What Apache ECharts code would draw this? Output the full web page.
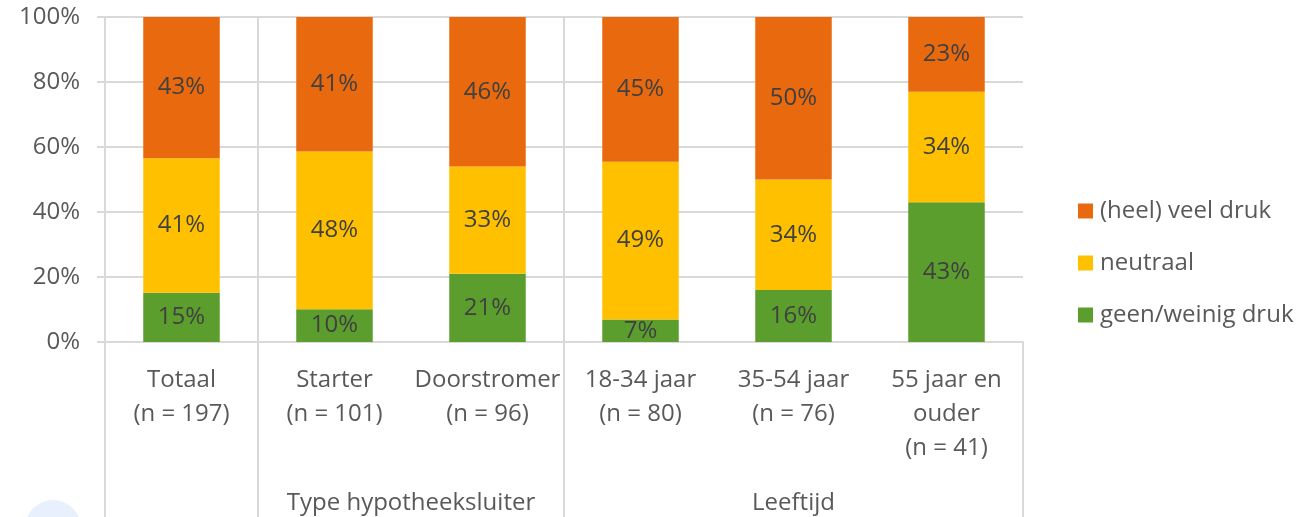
<!DOCTYPE html>
<html>
<head>
<meta charset="utf-8">
<script src="https://cdn.jsdelivr.net/npm/echarts@6/dist/echarts.min.js"></script>
<style>
  html, body { margin: 0; padding: 0; background: #ffffff; }
  #chart { width: 1298px; height: 517px; }
</style>
</head>
<body>
<div id="chart"></div>
<script>
// Respondent groups (bottom axis, first level)
const categories = [
  'Totaal\n(n = 197)',
  'Starter\n(n = 101)',
  'Doorstromer\n(n = 96)',
  '18-34 jaar\n(n = 80)',
  '35-54 jaar\n(n = 76)',
  '55 jaar en\nouder\n(n = 41)'
];

// Second-level grouping: name, first category index, index after the last one
const groupNames = ['Type hypotheeksluiter', 'Leeftijd'];
const groupStart = [1, 3];
const groupEnd = [3, 6];

// Percentages per answer, one value per category
const seriesNames = ['geen/weinig druk', 'neutraal', '(heel) veel druk'];
const geenWeinig = [15, 10, 21, 7, 16, 43];
const neutraal = [41, 48, 33, 49, 34, 34];
const veelDruk = [43, 41, 46, 45, 50, 23];

const yTicks = [0, 20, 40, 60, 80, 100];

const colors = ['#5B9E2D', '#FFC000', '#E9690F'];
const gridColor = '#D9D9D9';
const textColor = '#595959';
const font = '"Open Sans", "Noto Sans", sans-serif';

const raw = [geenWeinig, neutraal, veelDruk];
// Each column is drawn as a 100% stack: share of the column total
const totals = categories.map((_, i) => raw.reduce((s, arr) => s + arr[i], 0));
const shares = raw.map(arr => arr.map((v, i) => v / totals[i] * 100));

// Category boundaries that get a separator line
const boundaries = [0].concat(groupStart);
const groupCenters = groupStart.map((s, i) => (s + groupEnd[i]) / 2);

const chart = echarts.init(document.getElementById('chart'), null, { renderer: 'canvas' });

chart.setOption({
  animation: false,
  backgroundColor: '#ffffff',
  textStyle: { fontFamily: font },
  grid: { left: 105, right: 275, top: 17, bottom: 175, containLabel: false, outerBoundsMode: 'none' },
  legend: {
    orient: 'vertical',
    left: 1073,
    top: 194,
    itemWidth: 15,
    itemHeight: 15,
    itemGap: 28,
    icon: 'rect',
    data: ['(heel) veel druk', 'neutraal', 'geen/weinig druk'],
    textStyle: { color: textColor, fontSize: 24, lineHeight: 24, fontFamily: font, padding: [0, 0, 0, 2] }
  },
  xAxis: [
    {
      type: 'category',
      data: categories,
      axisLine: { show: true, lineStyle: { color: gridColor, width: 2 } },
      axisTick: {
        show: true,
        length: 176,
        interval: (index) => boundaries.includes(index),
        lineStyle: { color: gridColor, width: 2 }
      },
      splitLine: {
        show: true,
        showMaxLine: false,
        interval: (index) => boundaries.includes(index),
        lineStyle: { color: gridColor, width: 2 }
      },
      axisLabel: {
        interval: 0,
        margin: 21,
        color: textColor,
        fontSize: 24,
        lineHeight: 34,
        fontFamily: font
      }
    },
    {
      type: 'value',
      position: 'bottom',
      min: 0,
      max: categories.length,
      interval: 0.5,
      axisLine: { show: false },
      axisTick: { show: false },
      splitLine: { show: false },
      axisLabel: {
        margin: 144,
        color: textColor,
        fontSize: 24,
        lineHeight: 34,
        fontFamily: font,
        showMinLabel: true,
        showMaxLabel: true,
        formatter: (v) => {
          const k = groupCenters.findIndex(c => Math.abs(c - v) < 1e-6);
          return k >= 0 ? groupNames[k] : '';
        }
      }
    }
  ],
  yAxis: {
    type: 'value',
    min: yTicks[0],
    max: yTicks[yTicks.length - 1],
    interval: yTicks[1] - yTicks[0],
    axisLine: { show: false },
    axisTick: { show: true, length: 8, lineStyle: { color: gridColor, width: 2 } },
    splitLine: { show: true, lineStyle: { color: gridColor, width: 2 } },
    axisLabel: {
      margin: 25,
      color: textColor,
      fontSize: 24,
      fontFamily: font,
      padding: [3, 0, 0, 0],
      formatter: '{value}%'
    }
  },
  series: seriesNames.map((name, s) => ({
    name: name,
    type: 'bar',
    stack: 'total',
    barWidth: '50%',
    xAxisIndex: 0,
    itemStyle: { color: colors[s] },
    label: {
      show: true,
      position: 'inside',
      color: '#404040',
      fontSize: 24,
      fontFamily: font,
      formatter: (p) => raw[s][p.dataIndex] + '%'
    },
    data: shares[s]
  })),
  graphic: [
    {
      type: 'circle',
      shape: { cx: 53, cy: 528, r: 28 },
      style: { fill: '#E8F0FE' },
      silent: true,
      z: -1
    }
  ]
});
</script>
</body>
</html>
